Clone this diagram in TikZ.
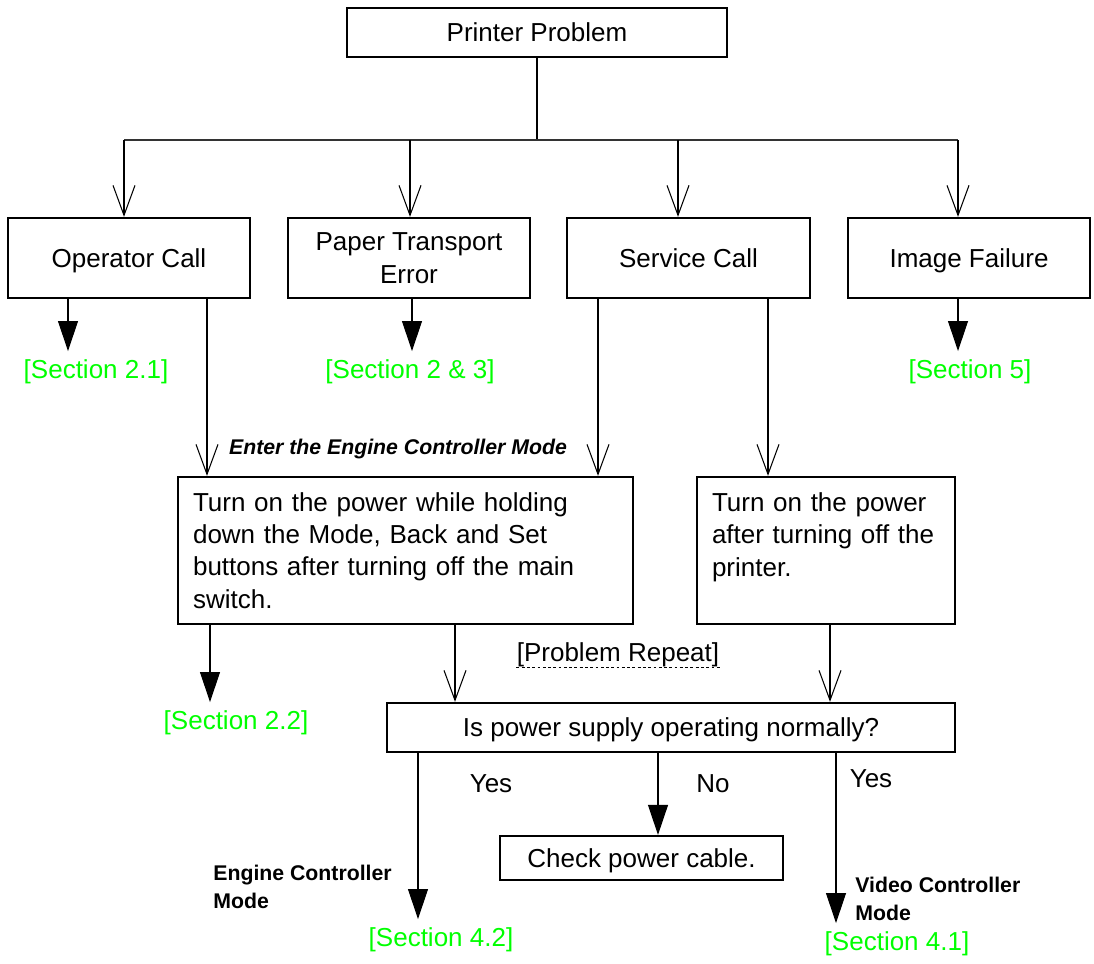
\documentclass[tikz,border=0pt]{standalone}
\usepackage{fontspec}
\setmainfont{Liberation Sans}
\usetikzlibrary{arrows.meta}

\definecolor{seclime}{RGB}{0,255,0}
\newcommand{\bodysize}{\fontsize{14.8}{18.4}\selectfont}
\newcommand{\notesize}{\fontsize{12.1}{15.9}\selectfont}

\tikzset{
	frame/.style = {draw, line width = 1.3pt, inner sep = 0pt, font = \bodysize},
	box/.style = {frame, text depth = 0pt},
	textbox/.style = {frame, minimum height = 2.94cm, inner xsep = 0.3cm, align = left},
	flow/.style = {line width = 0.6pt, -{Straight Barb[length = 0.6cm, width = 0.44cm]}},
	jump/.style = {line width = 0.6pt, -{Triangle[length = 0.6cm, width = 0.4cm]}},
	sect/.style = {text = seclime, inner xsep = 0pt, inner ysep = 0.17cm, font = \bodysize},
	note/.style = {font = \notesize\bfseries, align = left, inner sep = 0pt},
	answer/.style = {font = \bodysize, inner sep = 0pt}
}

\begin{document}
\begin{tikzpicture}[x = 0.02cm, y = -0.02cm]
		\useasboundingbox (0, 0) rectangle (1094, 963);

		\node [box, minimum width = 7.6cm, minimum height = 0.98cm] (problem) at (537, 32.5) {Printer Problem};
		\coordinate (fork) at (537, 140);

		\node [box, minimum width = 4.84cm, minimum height = 1.6cm] (opcall) at (129, 258) {Operator Call};
		\node [box, minimum width = 4.84cm, minimum height = 1.6cm, align = center] (paper) at (409, 258) {Paper Transport\\Error};
		\node [box, minimum width = 4.86cm, minimum height = 1.6cm] (service) at (688.5, 258) {Service Call};
		\node [box, minimum width = 4.84cm, minimum height = 1.6cm] (image) at (969, 258) {Image Failure};

		\node [sect] (sec21) at (96, 372) {[Section 2.1]};
		\node [sect] (sec23) at (410, 372) {[Section 2 \& 3]};
		\node [sect] (sec5) at (970, 372) {[Section 5]};

		\node [note, font = \notesize\bfseries\itshape] (enter) at (398, 449) {Enter the Engine Controller Mode};

		\node [textbox, text width = 8.5cm] (engine) at (405.5, 550.5)
			{Turn on the power while holding\\down the Mode, Back and Set\\buttons after turning off the main\\switch.};
		\node [textbox, text width = 4.56cm] (poweron) at (826, 550.5)
			{Turn on the power\\after turning off the\\printer.\\~};

		\node [sect] (sec22) at (236, 723) {[Section 2.2]};
		\node [answer] (again) at (618, 655) {[Problem Repeat]};
		\draw [line width = 1pt, dash pattern = on 1.6pt off 1.4pt] (again.south west) -- (again.south east);

		\node [box, minimum width = 11.36cm, minimum height = 0.98cm] (normal) at (671, 727.5) {Is power supply operating normally?};
		\node [answer] (yes1) at (491, 784) {Yes};
		\node [answer] (no) at (713, 784) {No};
		\node [answer] (yes2) at (871, 779) {Yes};
		\node [box, minimum width = 5.66cm, minimum height = 0.88cm] (cable) at (641.5, 858) {Check power cable.};

		\node [note, anchor = west] (ecmode) at (213, 887) {Engine Controller\\Mode};
		\node [note, anchor = west] (vcmode) at (855, 899) {Video Controller\\Mode};
		\node [sect] (sec42) at (441, 940) {[Section 4.2]};
		\node [sect] (sec41) at (897, 944) {[Section 4.1]};

		\draw [line width = 0.6pt] (problem) -- (fork);
		\draw [line width = 0.9pt, black!80] (fork -| 124, 0) -- (fork -| 958, 0);
		\draw [flow] (fork -| 124, 0) -- (opcall.north -| 124, 0);
		\draw [flow] (fork -| 410, 0) -- (paper.north -| 410, 0);
		\draw [flow] (fork -| 678, 0) -- (service.north -| 678, 0);
		\draw [flow] (fork -| 958, 0) -- (image.north -| 958, 0);

		\draw [jump] (opcall.south -| 68, 0) -- (sec21.north -| 68, 0);
		\draw [jump] (paper.south -| 412, 0) -- (sec23.north -| 412, 0);
		\draw [jump] (image.south -| 958, 0) -- (sec5.north -| 958, 0);

		\draw [flow] (opcall.south -| 207, 0) -- (engine.north -| 207, 0);
		\draw [flow] (service.south -| 598, 0) -- (engine.north -| 598, 0);
		\draw [flow] (service.south -| 768, 0) -- (poweron.north -| 768, 0);

		\draw [jump] (engine.south -| 210, 0) -- (sec22.north -| 210, 0);
		\draw [flow] (engine.south -| 455, 0) -- (normal.north -| 455, 0);
		\draw [flow] (poweron.south -| 830, 0) -- (normal.north -| 830, 0);

		\draw [jump] (normal.south -| 418, 0) -- (sec42.north -| 418, 0);
		\draw [jump] (normal.south -| 658, 0) -- (cable.north -| 658, 0);
		\draw [jump] (normal.south -| 836, 0) -- (sec41.north -| 836, 0);
	\end{tikzpicture}
\end{document}
